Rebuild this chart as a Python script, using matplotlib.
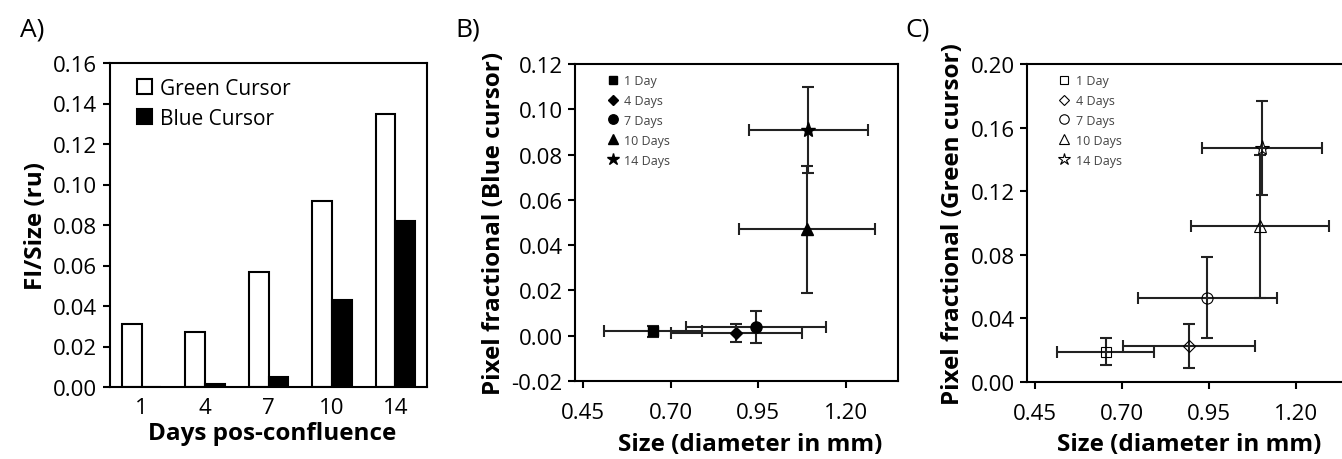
import numpy as np
import matplotlib.pyplot as plt

plt.rcParams['font.family'] = ['Open Sans', 'DejaVu Sans']

# Panel A data
days = ['1', '4', '7', '10', '14']
green_cursor = [0.031, 0.027, 0.057, 0.092, 0.135]
blue_cursor = [0.0, 0.0015, 0.005, 0.043, 0.082]

# Panels B and C data
series_labels = ['1 Day', '4 Days', '7 Days', '10 Days', '14 Days']
markers = ['s', 'D', 'o', '^', '*']
marker_sizes = [7, 6, 8, 8, 11]

size_mm = [0.651, 0.888, 0.943, 1.090, 1.093]
size_err = [0.14, 0.187, 0.20, 0.195, 0.17]
blue_frac = [0.002, 0.0012, 0.004, 0.047, 0.091]
blue_err = [0.0025, 0.004, 0.007, 0.028, 0.019]

size_mm_c = [0.653, 0.893, 0.945, 1.097, 1.102]
size_err_c = [0.14, 0.19, 0.20, 0.197, 0.172]
green_frac = [0.019, 0.0226, 0.053, 0.098, 0.147]
green_err = [0.0085, 0.014, 0.0255, 0.045, 0.0295]

W, H = 1342, 460
fig = plt.figure(figsize=(W / 100, H / 100), dpi=100)

def frac(l, t, r, b):
    return [l / W, (H - b) / H, (r - l) / W, (b - t) / H]

tick_fs = 16
label_fs = 17.5

def style_axes(ax):
    for s in ax.spines.values():
        s.set_linewidth(1.5)
    ax.tick_params(axis='both', direction='out', length=5, width=1.5,
                   labelsize=tick_fs, pad=4)

# ---- A) bars
axA = fig.add_axes(frac(110, 64, 427, 388))
x = np.arange(len(days))
bw = 0.31
axA.bar(x - bw, green_cursor, bw, align='edge', color='white', edgecolor='black',
        linewidth=1.5, label='Green Cursor')
axA.bar(x, blue_cursor, bw, align='edge', color='black', edgecolor='black',
        linewidth=1.5, label='Blue Cursor')
axA.set_xlim(-0.5, 4.5)
axA.set_ylim(0, 0.16)
axA.set_yticks(np.arange(0, 0.161, 0.02))
axA.yaxis.set_major_formatter(plt.FormatStrFormatter('%.2f'))
axA.set_xticks(x)
axA.set_xticklabels(days)
style_axes(axA)
axA.tick_params(axis='x', length=0, pad=7)
axA.set_xlabel('Days pos-confluence', fontsize=label_fs, fontweight='bold')
axA.xaxis.set_label_coords(0.511, -0.105)
axA.set_ylabel('FI/Size (ru)', fontsize=label_fs, fontweight='bold', labelpad=4)
axA.legend(loc='upper left', frameon=False, fontsize=15, handlelength=0.7,
           handleheight=0.7, handletextpad=0.4, labelspacing=0.45,
           borderaxespad=0.3, bbox_to_anchor=(0.04, 1.0))
fig.text(20 / W, 1 - 30 / H, 'A)', fontsize=19, va='center')


def scatter_panel(ax, xs, xe, ys, ye, filled):
    handles = []
    for i in range(len(series_labels)):
        fc = 'black' if filled else 'none'
        ax.errorbar(xs[i], ys[i], xerr=xe[i], yerr=ye[i], fmt='none',
                    ecolor='#222222', elinewidth=1.5, capsize=4, capthick=1.5)
        h, = ax.plot(xs[i], ys[i], linestyle='none', marker=markers[i],
                     markersize=marker_sizes[i], markerfacecolor=fc,
                     markeredgecolor='black', markeredgewidth=0.8 if not filled else 1,
                     label=series_labels[i])
        handles.append(h)
    ax.set_xlim(0.427, 1.35)
    ax.set_xticks([0.45, 0.70, 0.95, 1.20])
    ax.xaxis.set_major_formatter(plt.FormatStrFormatter('%.2f'))
    ax.yaxis.set_major_formatter(plt.FormatStrFormatter('%.2f'))
    style_axes(ax)
    ax.tick_params(axis='x', pad=10)
    leg = ax.legend(handles=handles, loc='upper left', frameon=False, fontsize=9,
                    handlelength=0.8, handletextpad=0.5, labelspacing=0.55,
                    borderaxespad=0.4, bbox_to_anchor=(0.07, 1.0), markerscale=0.85)
    for t in leg.get_texts():
        t.set_color('#444444')
    ax.set_xlabel('Size (diameter in mm)', fontsize=label_fs, fontweight='bold')


# ---- B) blue cursor
axB = fig.add_axes(frac(575, 65, 898, 382))
scatter_panel(axB, size_mm, size_err, blue_frac, blue_err, True)
axB.set_ylim(-0.02, 0.12)
axB.set_yticks(np.arange(-0.02, 0.121, 0.02))
axB.set_ylabel('Pixel fractional (Blue cursor)', fontsize=label_fs, fontweight='bold',
               labelpad=4)
axB.xaxis.set_label_coords(0.542, -0.16)
fig.text(455 / W, 1 - 30 / H, 'B)', fontsize=19, va='center')

# ---- C) green cursor
axC = fig.add_axes(frac(1027, 65, 1348, 383))
scatter_panel(axC, size_mm_c, size_err_c, green_frac, green_err, False)
axC.set_ylim(0, 0.20)
axC.set_yticks(np.arange(0, 0.201, 0.04))
axC.set_ylabel('Pixel fractional (Green cursor)', fontsize=label_fs, fontweight='bold',
               labelpad=4)
axC.xaxis.set_label_coords(0.505, -0.157)
fig.text(905 / W, 1 - 30 / H, 'C)', fontsize=19, va='center')

fig.savefig('out.png', dpi=100)
